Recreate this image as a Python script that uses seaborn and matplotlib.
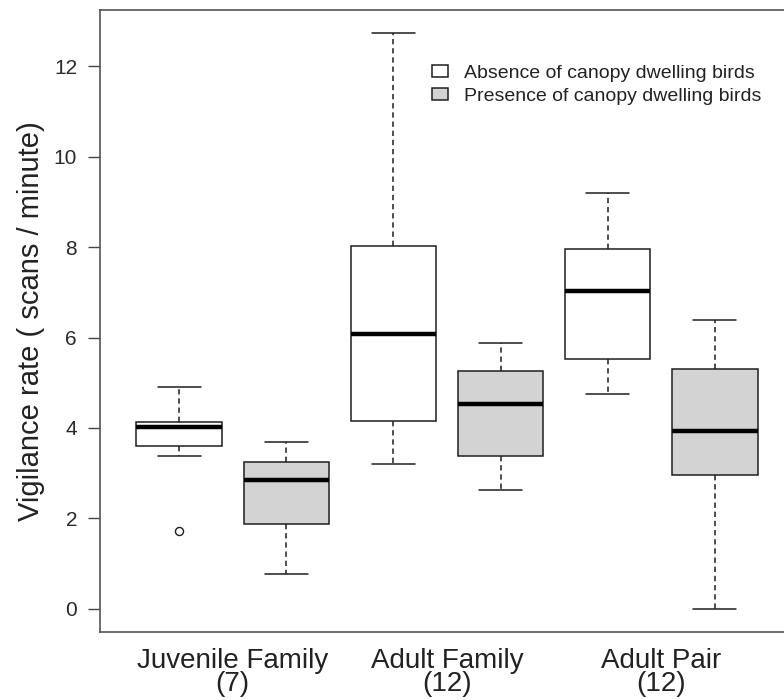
import numpy as np
import pandas as pd
import matplotlib
matplotlib.use("Agg")
import matplotlib.pyplot as plt
import seaborn as sns

# ---- data (box-plot five-number summaries) ----
groups = ["Juvenile Family", "Adult Family", "Adult Pair"]
sample_sizes = [7, 12, 12]
conditions = ["Absence of canopy dwelling birds", "Presence of canopy dwelling birds"]

absence_lower = [3.38, 3.21, 4.75]
absence_q1 = [3.60, 4.16, 5.53]
absence_median = [4.02, 6.09, 7.02]
absence_q3 = [4.13, 8.03, 7.97]
absence_upper = [4.91, 12.74, 9.20]

presence_lower = [0.76, 2.63, 0.00]
presence_q1 = [1.87, 3.38, 2.96]
presence_median = [2.85, 4.53, 3.93]
presence_q3 = [3.24, 5.27, 5.30]
presence_upper = [3.69, 5.87, 6.38]

outlier_group = ["Juvenile Family"]
outlier_condition = ["Absence of canopy dwelling birds"]
outlier_value = [1.71]

y_ticks = [0, 2, 4, 6, 8, 10, 12]
y_label = "Vigilance rate ( scans / minute)"

# ---- build long-form table ----
summaries = {
    conditions[0]: [absence_lower, absence_q1, absence_median, absence_q3, absence_upper],
    conditions[1]: [presence_lower, presence_q1, presence_median, presence_q3, presence_upper],
}
box_order = [f"{g}|{c}" for g in groups for c in conditions]
rows = []
for gi, g in enumerate(groups):
    for c in conditions:
        for stat in summaries[c]:
            rows.append({"box": f"{g}|{c}", "condition": c, "rate": stat[gi]})
df = pd.DataFrame(rows)
out_df = pd.DataFrame({
    "box": [f"{g}|{c}" for g, c in zip(outlier_group, outlier_condition)],
    "rate": outlier_value,
})

# ---- plot ----
sns.set_style("ticks")
plt.rcParams["font.family"] = ["Liberation Sans", "DejaVu Sans"]
text_col = "#222222"
line_col = "#1e1e1e"

fig = plt.figure(figsize=(7.84, 7.0), dpi=100)
ax = fig.add_axes([100 / 784, (700 - 631.7) / 700, 694 / 784, 621.7 / 700])

sns.boxplot(
    data=df, x="box", y="rate", hue="condition", order=box_order, hue_order=conditions,
    palette={conditions[0]: "white", conditions[1]: "#d3d3d3"}, saturation=1,
    width=0.8, dodge=False, whis=(0, 100), showfliers=False,
    linecolor=line_col, linewidth=1.1,
    medianprops=dict(linewidth=3.2, color="black", solid_capstyle="butt"),
    whiskerprops=dict(linestyle=(0, (3.5, 2.5))),
    ax=ax,
)
sns.stripplot(
    data=out_df, x="box", y="rate", order=box_order, jitter=False,
    marker="o", size=5.8, color="white", edgecolor=line_col, linewidth=1.0,
    legend=False, ax=ax,
)

ax.set_xlim(-0.74, 5.74)
ax.set_ylim(-0.51, 13.25)
ax.set_yticks(y_ticks)
ax.set_yticklabels([str(t) for t in y_ticks])
ax.set_xticks([0.5, 2.5, 4.5])
ax.set_xticklabels([f"{g}\n({n})" for g, n in zip(groups, sample_sizes)])
for lbl in ax.get_xticklabels():
    lbl.set_linespacing(0.82)

ax.tick_params(axis="y", left=True, length=8.5, width=1.0, color="#444444",
               labelsize=15, pad=8, labelcolor="#2a2a2a", direction="out")
ax.tick_params(axis="x", bottom=False, length=0, labelsize=20, pad=12, labelcolor=text_col)
ax.set_xlabel("")
ax.set_ylabel(y_label, fontsize=21, color=text_col, labelpad=6)

for side in ["left", "bottom", "top", "right"]:
    ax.spines[side].set_visible(True)
    ax.spines[side].set_color("#555555")
    ax.spines[side].set_linewidth(1.2)

sns.move_legend(
    ax, "upper left", bbox_to_anchor=(0.478, 0.912), frameon=False, title=None,
    fontsize=14, handlelength=0.82, handleheight=0.57, handletextpad=0.85,
    labelspacing=0.3, borderaxespad=0, borderpad=0,
)
for t in ax.get_legend().get_texts():
    t.set_color(text_col)

fig.savefig("out.png", dpi=100)
